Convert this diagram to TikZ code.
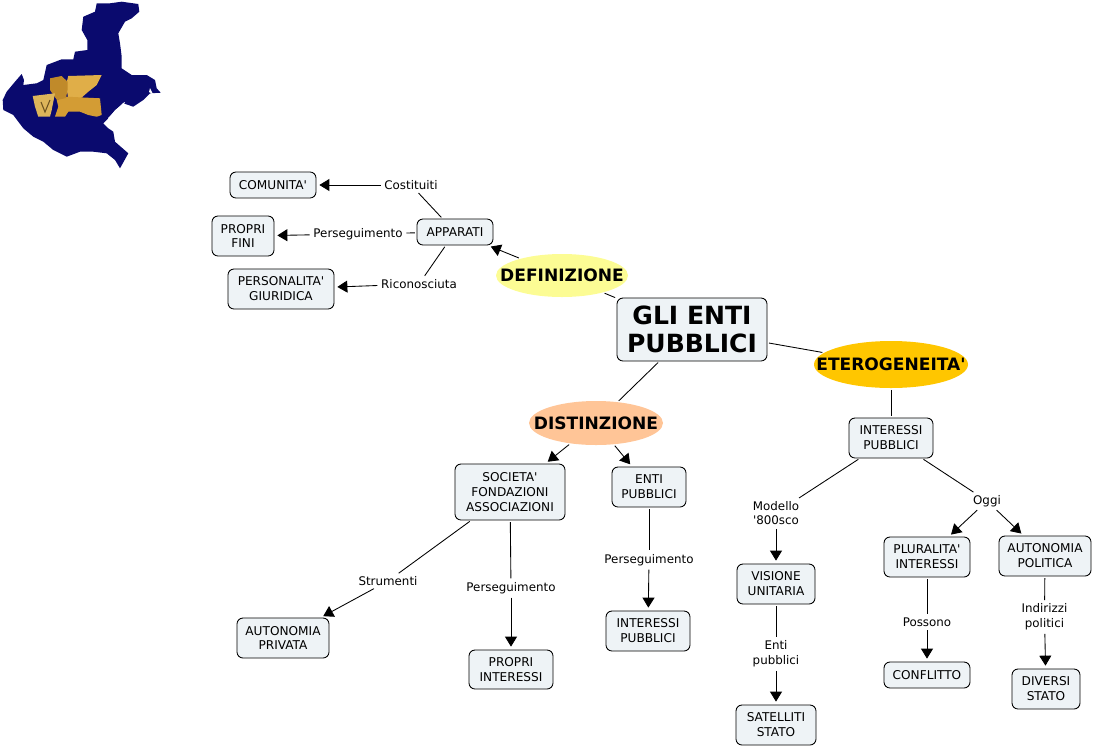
\documentclass[tikz,border=0pt]{standalone}
\usepackage{fontspec}
\setmainfont{DejaVu Sans}
\usetikzlibrary{arrows.meta,shapes.geometric}
\definecolor{boxfill}{HTML}{EEF3F6}
\definecolor{navy}{HTML}{0A0A6E}
\definecolor{defcol}{HTML}{FCFC94}
\definecolor{distcol}{HTML}{FFC597}
\definecolor{etercol}{HTML}{FFC600}
\definecolor{lionwing}{HTML}{E0AE48}
\definecolor{lionbody}{HTML}{D39C34}
\definecolor{lionhead}{HTML}{C08A2A}
\definecolor{lionbook}{HTML}{DDB55A}
\definecolor{liondark}{HTML}{6E5320}
\newcommand{\qt}{\textquotesingle}
\tikzset{
 x=0.75pt,y=-0.75pt,
 sz/.style 2 args={minimum width=#1*0.75pt,minimum height=#2*0.75pt},
 box/.style={draw=black,line width=0.65pt,fill=boxfill,rounded corners=4.5pt,align=center,font=\fontsize{9.1pt}{11.2pt}\selectfont,inner sep=0pt},
 link/.style={font=\fontsize{8.9pt}{11pt}\selectfont,align=center,inner sep=1.5pt},
 topic/.style={ellipse,inner sep=0pt,font=\fontsize{12.8pt}{15pt}\selectfont\bfseries},
 con/.style={line width=0.65pt,black,shorten >=1.2pt,shorten <=1.2pt},
 arr/.style={con,shorten >=2.2pt,-{Triangle[length=7.5pt,width=9pt]}},
}
\begin{document}
\begin{tikzpicture}
\useasboundingbox (0,0) rectangle (1093,747);
% logo
\fill[navy] (96.7,3.3)--(110,3.3)--(121.7,1.7)--(138.3,4)--(139.3,11.7)--(131.7,18.3)--(125,21.7)--(118.3,33.3)--(120,43.3)--(121.7,56.7)--(121.7,68.3)--(131.7,75)--(146.7,75)--(155,80)--(156.7,88.3)--(160.7,92.7)--(150,93.3)--(143.3,100)--(133.3,106.7)--(123.3,103.3)--(115,110)--(108.3,118.3)--(103.3,123.3)--(108.3,128.3)--(113.3,131.7)--(115,141.7)--(128.3,153.3)--(125,159.3)--(120,168.3)--(115,160)--(106.7,153.3)--(93.3,151.7)--(80,151.7)--(66.7,156.7)--(53.3,150)--(43.3,141.7)--(33.3,136.7)--(23.3,128.3)--(13.3,115)--(3.3,110)--(2.7,100)--(6.7,91.7)--(15,81.7)--(21.7,74)--(24,80)--(23.3,85)--(36.7,83.3)--(43.3,80)--(46.7,65)--(61.7,59.3)--(73.3,59.3)--(75,51.7)--(87.3,50)--(87.3,40)--(81.7,30)--(83.3,16.7)--(95,11.7)--cycle;
\fill[white] (123,103)--(125,102)--(116,120)--(112,124)--(108,118)--cycle;
\fill[white] (150,88)--(153,94)--(149,92)--cycle;
\fill[lionwing] (68.3,76)--(101.7,75)--(96.7,85)--(88.3,91.7)--(80,99)--(68.3,99)--(66,85)--cycle;
\fill[lionbody] (56.7,100)--(66.7,96.7)--(100,98.3)--(101.7,115)--(96.7,116.7)--(88.3,115)--(80,111.7)--(68.3,111.7)--(65,116.7)--(55,116.7)--(58.3,106.7)--cycle;
\fill[lionhead] (50,78.3)--(61.7,76)--(67.5,81.7)--(67.5,90)--(66,98)--(57,100)--(50,90)--cycle;
\fill[lionbook] (32.7,96)--(55,93.3)--(51.7,110)--(50,116.7)--(38.3,116.7)--(35,106.7)--cycle;
\draw[liondark,line width=0.8pt] (41,102)--(45,112)--(50,100);
% nodes
\node[box,sz={150}{63},font=\fontsize{18.8pt}{21.2pt}\selectfont\bfseries] (root) at (692,329.5) {GLI ENTI\\PUBBLICI};
\node[topic,fill=defcol,sz={132}{43}] (def) at (562,275.5) {\clap{DEFINIZIONE}};
\node[topic,fill=distcol,sz={134}{44}] (dist) at (596,423) {\clap{DISTINZIONE}};
\node[topic,fill=etercol,sz={154}{47}] (eter) at (891,364.5) {\clap{ETEROGENEITA\qt}};
\node[box,sz={86}{26}] (com) at (273,185) {COMUNITA\qt};
\node[box,sz={62}{40}] (fini) at (243,236) {PROPRI\\FINI};
\node[box,sz={106}{40}] (pers) at (281,289) {PERSONALITA\qt\\GIURIDICA};
\node[box,sz={76}{26}] (app) at (455,232) {APPARATI};
\node[link] (costi) at (411,185) {Costituiti};
\node[link] (pseg) at (358,234) {Perseguimento};
\node[link] (ric) at (419,284) {Riconosciuta};
\node[box,sz={110}{56}] (soc) at (510,492) {SOCIETA\qt\\FONDAZIONI\\ASSOCIAZIONI};
\node[box,sz={74}{40}] (enti) at (649,487) {ENTI\\PUBBLICI};
\node[box,sz={92}{40}] (aut) at (283,638) {AUTONOMIA\\PRIVATA};
\node[box,sz={84}{39}] (prop) at (511,669.5) {PROPRI\\INTERESSI};
\node[box,sz={84}{40}] (ip) at (648,631) {INTERESSI\\PUBBLICI};
\node[link] (str) at (388,581) {Strumenti};
\node[link] (p2) at (511,588) {Perseguimento};
\node[link] (p3) at (649,560) {Perseguimento};
\node[box,sz={84}{40}] (int) at (891,438) {INTERESSI\\PUBBLICI};
\node[link] (mod) at (776,513) {Modello\\\qt800sco};
\node[link] (oggi) at (987,501) {Oggi};
\node[box,sz={78}{40}] (vis) at (776,584) {VISIONE\\UNITARIA};
\node[link] (ep) at (776,654) {Enti\\pubblici};
\node[box,sz={80}{40}] (sat) at (776,725) {SATELLITI\\STATO};
\node[box,sz={86}{40}] (plu) at (927,557) {PLURALITA\qt\\INTERESSI};
\node[box,sz={92}{40}] (apol) at (1045,556) {AUTONOMIA\\POLITICA};
\node[link] (poss) at (927,622) {Possono};
\node[link] (ind) at (1044.5,617) {Indirizzi\\politici};
\node[box,sz={86}{26}] (conf) at (927,675) {CONFLITTO};
\node[box,sz={68}{40}] (div) at (1046,689) {DIVERSI\\STATO};
% connectors
\draw[con] (root)--(def);
\draw[arr] (def)--(app);
\draw[con] (root)--(eter);
\draw[con] (root)--(dist);
\draw[con] (eter)--(int);
\draw[arr] (dist)--(soc);
\draw[arr] (dist)--(enti);
\draw[con] (app)--(costi);
\draw[arr] (costi)--(com);
\draw[con] (app)--(pseg);
\draw[arr] (pseg)--(fini);
\draw[con] (app)--(ric);
\draw[arr] (ric)--(pers);
\draw[con] (soc)--(str);
\draw[arr] (str)--(aut);
\draw[con] (soc)--(p2);
\draw[arr] (p2)--(prop);
\draw[con] (enti)--(p3);
\draw[arr] (p3)--(ip);
\draw[con] (int)--(mod);
\draw[arr] (mod)--(vis);
\draw[con] (vis)--(ep);
\draw[arr] (ep)--(sat);
\draw[con] (int)--(oggi);
\draw[arr] (oggi)--(plu);
\draw[arr] (oggi)--(apol);
\draw[con] (plu)--(poss);
\draw[arr] (poss)--(conf);
\draw[con] (apol)--(ind);
\draw[arr] (ind)--(div);
\end{tikzpicture}
\end{document}
